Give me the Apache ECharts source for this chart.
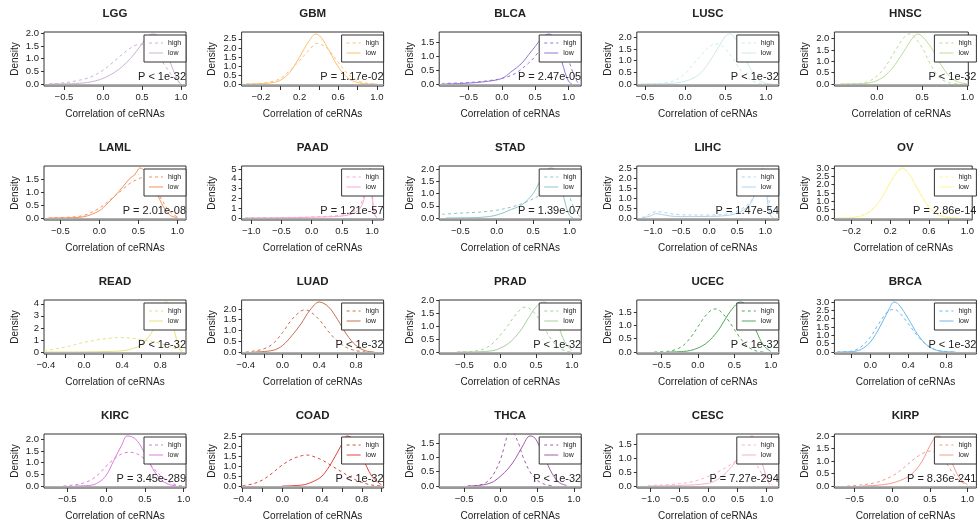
<!DOCTYPE html>
<html>
<head>
<meta charset="utf-8">
<script src="https://cdn.jsdelivr.net/npm/echarts@6/dist/echarts.min.js"></script>
<style>
  html, body { margin: 0; padding: 0; background: #fff; }
  #chart { width: 977px; height: 526px; }
</style>
</head>
<body>
<div id="chart"></div>
<script>
// Cancer types, in panel order (row by row)
const cancers = ['LGG','GBM','BLCA','LUSC','HNSC',
                 'LAML','PAAD','STAD','LIHC','OV',
                 'READ','LUAD','PRAD','UCEC','BRCA',
                 'KIRC','COAD','THCA','CESC','KIRP'];

// p-value annotation of each panel
const pTexts = ['P < 1e-32','P = 1.17e-02','P = 2.47e-05','P < 1e-32','P < 1e-32',
                'P = 2.01e-08','P = 1.21e-57','P = 1.39e-07','P = 1.47e-54','P = 2.86e-14',
                'P < 1e-32','P < 1e-32','P < 1e-32','P < 1e-32','P < 1e-32',
                'P = 3.45e-289','P < 1e-32','P < 1e-32','P = 7.27e-294','P = 8.36e-241'];

// legend entries
const groups = ['high', 'low'];

// x-axis limits of each panel
const xLimits = [[-0.756,1.064],[-0.40,1.07],[-0.94,1.19],[-0.60,1.16],[-0.47,1.01],
                 [-0.71,1.11],[-1.16,1.19],[-0.79,1.16],[-1.29,1.24],[-0.38,1.05],
                 [-0.42,1.07],[-0.445,1.10],[-0.85,1.13],[-0.84,1.11],[-0.38,1.12],
                 [-0.80,1.03],[-0.41,1.02],[-0.84,1.10],[-1.24,1.21],[-0.77,1.12]];

// tick sets
const tHalf   = [-0.5,0,0.5,1];
const tWide   = [-1,-0.5,0,0.5,1];
const tFifth  = [-0.2,0,0.2,0.4,0.6,0.8,1];
const lFifth  = [-0.2,0.2,0.6,1];
const tFifthN = [-0.4,-0.2,0,0.2,0.4,0.6,0.8,1];
const lFifthN = [-0.4,0,0.4,0.8];
const xTicks  = [tHalf,tFifth,tHalf,tHalf,tHalf, tHalf,tWide,tHalf,tWide,tFifth,
                 tFifthN,tFifthN,tHalf,tHalf,tFifthN, tHalf,tFifthN,tHalf,tWide,tHalf];
const xLabels = [tHalf,lFifth,tHalf,tHalf,tHalf, tHalf,tWide,tHalf,tWide,lFifth,
                 lFifthN,lFifthN,tHalf,tHalf,lFifthN, tHalf,lFifthN,tHalf,tWide,tHalf];

const y20 = [0,0.5,1,1.5,2];
const y15 = [0,0.5,1,1.5];
const y25 = [0,0.5,1,1.5,2,2.5];
const y30 = [0,0.5,1,1.5,2,2.5,3];
const y5i = [0,1,2,3,4,5];
const y4i = [0,1,2,3,4];
const yTicks = [y20,y25,y15,y20,y20, y15,y5i,y20,y25,y30,
                y4i,y20,y20,y15,y30, y20,y25,y15,y15,y20];

// line colours
const colors = ['#CAB2D6','#FDBF6F','#9575D8','#CBEBEB','#B9DE98',
                '#F7915E','#F7A6D6','#8CC6C9','#B2D4EC','#FFF59A',
                '#E9E27E','#C4704F','#A8D09E','#52AA5A','#6FB7E8',
                '#DE7BE0','#E2463D','#A35CA8','#F6B2C9','#F59A8E'];

// density curves [correlation, density], group "high" and group "low"
const LGG_high  = [[-0.69,0],[-0.6,0.02],[-0.5,0.05],[-0.4,0.09],[-0.3,0.15],[-0.2,0.23],[-0.1,0.36],[0,0.54],[0.1,0.78],[0.2,1.05],[0.3,1.3],[0.4,1.5],[0.48,1.57],[0.55,1.52],[0.6,1.43],[0.7,1.12],[0.8,0.7],[0.9,0.28],[1.0,0.02]];
const LGG_low   = [[-0.69,0],[-0.4,0.01],[-0.3,0.03],[-0.2,0.06],[-0.1,0.12],[0,0.22],[0.1,0.37],[0.2,0.57],[0.3,0.84],[0.4,1.18],[0.5,1.58],[0.58,1.9],[0.64,1.97],[0.7,1.9],[0.8,1.35],[0.9,0.55],[0.97,0.08],[1.0,0]];
const GBM_high  = [[-0.35,0],[-0.2,0.04],[-0.1,0.12],[0,0.3],[0.1,0.75],[0.2,1.3],[0.3,1.88],[0.38,2.25],[0.45,2.12],[0.5,1.9],[0.6,1.2],[0.7,0.55],[0.8,0.18],[0.9,0.04],[1.0,0]];
const GBM_low   = [[-0.35,0],[-0.2,0.02],[-0.1,0.06],[0,0.2],[0.1,0.65],[0.2,1.5],[0.3,2.4],[0.37,2.77],[0.42,2.6],[0.5,1.9],[0.6,0.95],[0.7,0.33],[0.8,0.08],[0.9,0.01],[1.0,0]];
const BLCA_high = [[-0.9,0.02],[-0.6,0.04],[-0.4,0.07],[-0.2,0.12],[0,0.2],[0.2,0.38],[0.4,0.75],[0.5,1.0],[0.6,1.3],[0.7,1.5],[0.8,1.58],[0.9,1.4],[1.0,0.85],[1.1,0.2],[1.15,0.02]];
const BLCA_low  = [[-0.85,0],[-0.6,0.02],[-0.4,0.05],[-0.2,0.1],[0,0.2],[0.13,0.42],[0.3,0.75],[0.4,1.05],[0.5,1.35],[0.6,1.65],[0.7,1.8],[0.75,1.75],[0.8,1.5],[0.9,0.8],[0.95,0.4],[1.0,0.1],[1.05,0]];
const LUSC_high = [[-0.55,0],[-0.3,0.03],[-0.2,0.08],[-0.1,0.2],[0,0.45],[0.1,0.85],[0.2,1.25],[0.3,1.6],[0.38,1.72],[0.45,1.65],[0.5,1.5],[0.6,1.05],[0.7,0.55],[0.8,0.2],[0.9,0.05],[1.0,0.01]];
const LUSC_low  = [[-0.55,0],[-0.2,0.02],[-0.1,0.05],[0,0.12],[0.1,0.25],[0.2,0.5],[0.3,0.95],[0.4,1.5],[0.5,2.05],[0.55,2.14],[0.6,2.05],[0.7,1.45],[0.8,0.7],[0.9,0.2],[1.0,0.03],[1.08,0]];
const HNSC_high = [[-0.4,0],[-0.2,0.02],[-0.1,0.1],[0,0.35],[0.1,0.8],[0.2,1.45],[0.3,2.05],[0.35,2.2],[0.4,2.13],[0.5,1.6],[0.6,0.8],[0.7,0.25],[0.8,0.05],[0.9,0.01]];
const HNSC_low  = [[-0.4,0],[-0.2,0.01],[-0.1,0.04],[0,0.15],[0.1,0.4],[0.2,0.85],[0.3,1.45],[0.4,2.05],[0.45,2.2],[0.5,2.1],[0.6,1.6],[0.7,0.9],[0.8,0.35],[0.9,0.08],[1.0,0.01]];
const LAML_high = [[-0.65,0],[-0.4,0.03],[-0.2,0.1],[0,0.38],[0.1,0.6],[0.2,0.85],[0.3,1.1],[0.4,1.35],[0.5,1.5],[0.55,1.55],[0.6,1.5],[0.7,1.2],[0.8,0.7],[0.9,0.25],[1.0,0.04]];
const LAML_low  = [[-0.65,0],[-0.4,0.01],[-0.2,0.05],[0,0.28],[0.1,0.55],[0.2,0.85],[0.3,1.2],[0.4,1.55],[0.45,1.65],[0.5,1.88],[0.52,1.92],[0.6,1.75],[0.7,1.2],[0.8,0.55],[0.9,0.12],[1.0,0.01]];
const PAAD_high = [[-1.1,0.02],[-0.5,0.05],[0,0.1],[0.5,0.3],[0.7,0.7],[0.8,1.3],[0.85,2.0],[0.9,3.4],[0.93,4.2],[0.97,3.6],[1.0,2.0],[1.05,0.3],[1.1,0]];
const PAAD_low  = [[-1.1,0],[-0.5,0.03],[0,0.08],[0.5,0.2],[0.7,0.5],[0.8,1.0],[0.85,1.6],[0.9,2.8],[0.95,4.6],[0.97,5.1],[1.0,3.0],[1.03,0.5],[1.08,0]];
const STAD_high = [[-0.75,0.15],[-0.5,0.2],[-0.2,0.25],[0,0.32],[0.2,0.45],[0.4,0.65],[0.6,0.95],[0.8,1.35],[0.88,1.45],[0.95,1.2],[1.05,0.5],[1.1,0.2],[1.15,0.05]];
const STAD_low  = [[-0.7,0],[-0.4,0.01],[-0.2,0.03],[0,0.12],[0.2,0.35],[0.35,0.55],[0.5,1.0],[0.6,1.55],[0.7,2.0],[0.75,2.05],[0.8,1.95],[0.9,1.1],[0.95,0.5],[1.0,0.1],[1.05,0]];
const LIHC_high = [[-1.2,0.02],[-1.05,0.2],[-0.95,0.32],[-0.85,0.3],[-0.7,0.22],[-0.5,0.16],[0,0.15],[0.3,0.2],[0.5,0.35],[0.7,0.7],[0.8,1.1],[0.9,1.65],[0.97,1.95],[1.05,1.2],[1.1,0.4],[1.2,0.05]];
const LIHC_low  = [[-1.2,0],[-1.05,0.1],[-0.95,0.22],[-0.85,0.18],[-0.7,0.1],[-0.5,0.07],[0,0.08],[0.3,0.12],[0.5,0.25],[0.7,0.6],[0.8,1.1],[0.9,2.0],[0.95,2.5],[1.0,1.8],[1.05,0.6],[1.1,0.1],[1.15,0]];
const OV_high   = [[-0.35,0],[-0.2,0.03],[-0.1,0.15],[0,0.47],[0.1,1.12],[0.2,2.1],[0.28,2.8],[0.33,2.95],[0.4,2.62],[0.5,1.62],[0.6,0.72],[0.7,0.22],[0.8,0.05],[0.9,0.01]];
const OV_low    = [[-0.35,0],[-0.2,0.02],[-0.1,0.12],[0,0.42],[0.1,1.1],[0.2,2.15],[0.28,2.85],[0.32,3.0],[0.4,2.6],[0.5,1.55],[0.6,0.65],[0.7,0.18],[0.8,0.03],[0.9,0]];
const READ_high = [[-0.42,0.1],[-0.3,0.25],[-0.2,0.4],[-0.1,0.6],[0,0.8],[0.1,0.95],[0.2,1.08],[0.3,1.17],[0.4,1.2],[0.5,1.15],[0.6,1.05],[0.7,0.9],[0.8,0.7],[0.9,0.45],[1.0,0.2],[1.07,0.08]];
const READ_low  = [[-0.4,0],[0,0.01],[0.3,0.05],[0.4,0.1],[0.5,0.25],[0.6,0.6],[0.7,1.5],[0.75,2.3],[0.8,3.4],[0.85,4.15],[0.88,4.1],[0.92,3.0],[0.95,1.7],[1.0,0.3],[1.03,0]];
const LUAD_high = [[-0.4,0],[-0.3,0.05],[-0.2,0.15],[-0.1,0.4],[0,0.9],[0.1,1.5],[0.2,1.9],[0.25,1.95],[0.3,1.88],[0.4,1.5],[0.5,0.95],[0.6,0.5],[0.7,0.2],[0.8,0.06],[0.9,0.01]];
const LUAD_low  = [[-0.3,0],[-0.1,0.08],[0,0.3],[0.1,0.75],[0.2,1.3],[0.3,1.95],[0.4,2.32],[0.5,2.1],[0.6,1.5],[0.7,0.8],[0.8,0.3],[0.9,0.06],[1.0,0]];
const PRAD_high = [[-0.6,0],[-0.4,0.02],[-0.3,0.06],[-0.2,0.15],[-0.1,0.35],[0,0.65],[0.1,1.0],[0.2,1.4],[0.3,1.7],[0.35,1.75],[0.4,1.72],[0.5,1.45],[0.6,1.0],[0.7,0.55],[0.8,0.2],[0.9,0.05],[1.0,0]];
const PRAD_low  = [[-0.6,0],[-0.3,0.01],[-0.1,0.05],[0,0.15],[0.1,0.3],[0.2,0.55],[0.3,0.9],[0.4,1.35],[0.5,1.75],[0.6,1.95],[0.65,1.92],[0.7,1.75],[0.8,1.1],[0.9,0.4],[1.0,0.05]];
const UCEC_high = [[-0.6,0],[-0.4,0.03],[-0.3,0.1],[-0.2,0.25],[-0.1,0.55],[0,0.95],[0.1,1.35],[0.2,1.6],[0.25,1.62],[0.3,1.55],[0.4,1.25],[0.5,0.85],[0.6,0.45],[0.7,0.17],[0.8,0.04],[0.9,0]];
const UCEC_low  = [[-0.4,0],[-0.2,0.02],[-0.1,0.06],[0,0.15],[0.1,0.3],[0.2,0.55],[0.3,0.9],[0.4,1.35],[0.5,1.72],[0.58,1.88],[0.65,1.8],[0.7,1.55],[0.8,0.8],[0.9,0.25],[1.0,0.02]];
const BRCA_high = [[-0.35,0],[-0.2,0.05],[-0.1,0.3],[0,0.9],[0.1,1.8],[0.2,2.5],[0.25,2.55],[0.3,2.4],[0.4,1.7],[0.5,0.95],[0.6,0.4],[0.7,0.12],[0.8,0.03],[0.9,0]];
const BRCA_low  = [[-0.35,0],[-0.2,0.02],[-0.1,0.15],[0,0.6],[0.1,1.5],[0.2,2.6],[0.25,3.0],[0.3,2.85],[0.4,2.0],[0.5,1.05],[0.6,0.4],[0.7,0.1],[0.8,0.02],[0.9,0]];
const KIRC_high = [[-0.55,0],[-0.4,0.05],[-0.3,0.12],[-0.2,0.25],[-0.1,0.5],[0,0.85],[0.1,1.15],[0.2,1.38],[0.3,1.45],[0.4,1.38],[0.5,1.15],[0.6,0.8],[0.7,0.45],[0.8,0.2],[0.9,0.05],[1.0,0]];
const KIRC_low  = [[-0.4,0],[-0.2,0.03],[-0.1,0.15],[0,0.45],[0.1,1.1],[0.2,1.75],[0.27,2.15],[0.33,2.12],[0.4,1.95],[0.5,1.4],[0.6,0.75],[0.7,0.3],[0.8,0.08],[0.9,0.01]];
const COAD_high = [[-0.4,0.02],[-0.3,0.1],[-0.2,0.3],[-0.1,0.65],[0,1.05],[0.1,1.35],[0.2,1.52],[0.25,1.55],[0.3,1.5],[0.4,1.3],[0.5,1.0],[0.6,0.7],[0.7,0.4],[0.8,0.18],[0.9,0.05],[1.0,0]];
const COAD_low  = [[0,0],[0.2,0.05],[0.3,0.2],[0.4,0.5],[0.5,1.2],[0.6,2.1],[0.65,2.5],[0.7,2.4],[0.8,1.5],[0.9,0.5],[1.0,0.05]];
const THCA_high = [[-0.45,0],[-0.3,0.03],[-0.2,0.12],[-0.1,0.4],[0,0.95],[0.05,1.4],[0.1,1.85],[0.13,2.0],[0.17,1.9],[0.25,1.45],[0.3,1.05],[0.4,0.5],[0.5,0.2],[0.6,0.06],[0.7,0.01]];
const THCA_low  = [[-0.45,0],[-0.3,0.02],[-0.2,0.06],[-0.1,0.15],[0,0.35],[0.1,0.6],[0.2,0.95],[0.3,1.4],[0.4,1.75],[0.45,1.72],[0.5,1.55],[0.6,1.0],[0.7,0.45],[0.8,0.12],[0.9,0.02]];
const CESC_high = [[-1.05,0.02],[-0.5,0.08],[-0.2,0.2],[0,0.35],[0.2,0.55],[0.4,0.8],[0.6,1.05],[0.7,1.05],[0.8,0.85],[0.9,0.5],[1.0,0.2],[1.1,0.03]];
const CESC_low  = [[-1.0,0],[-0.5,0.02],[0,0.1],[0.2,0.3],[0.4,0.7],[0.5,1.0],[0.6,1.4],[0.7,1.75],[0.75,1.8],[0.8,1.7],[0.9,1.0],[1.0,0.3],[1.05,0.05]];
const KIRP_high = [[-0.6,0],[-0.4,0.05],[-0.2,0.15],[0,0.4],[0.1,0.6],[0.2,0.85],[0.3,1.1],[0.4,1.3],[0.5,1.4],[0.6,1.3],[0.7,1.0],[0.8,0.55],[0.9,0.2],[1.0,0.04]];
const KIRP_low  = [[-0.4,0],[-0.2,0.03],[0,0.12],[0.2,0.35],[0.3,0.6],[0.4,1.0],[0.5,1.6],[0.6,2.0],[0.65,1.95],[0.7,1.65],[0.8,0.9],[0.9,0.3],[1.0,0.05]];

const highCurves = [LGG_high,GBM_high,BLCA_high,LUSC_high,HNSC_high,LAML_high,PAAD_high,STAD_high,LIHC_high,OV_high,
                    READ_high,LUAD_high,PRAD_high,UCEC_high,BRCA_high,KIRC_high,COAD_high,THCA_high,CESC_high,KIRP_high];
const lowCurves  = [LGG_low,GBM_low,BLCA_low,LUSC_low,HNSC_low,LAML_low,PAAD_low,STAD_low,LIHC_low,OV_low,
                    READ_low,LUAD_low,PRAD_low,UCEC_low,BRCA_low,KIRC_low,COAD_low,THCA_low,CESC_low,KIRP_low];

// ---- layout of the 5 x 4 panel grid ----
const BOX_W = 142, BOX_H = 54;
const boxLeft = c => 44 + c * 197.6;
const boxTop  = r => 32 + r * 134;
const FONT = '"Liberation Sans", Arial, Helvetica, sans-serif';
const INK = '#222';
const DASH = [3, 3];

const fmtTick = intLabels => v => {
  const s = intLabels ? String(Math.round(Math.abs(v))) : Math.abs(v).toFixed(1);
  return (v < -1e-9 ? '\u2212' : '') + s;
};

const grids = [], xAxes = [], yAxes = [], series = [], graphics = [];

cancers.forEach((name, i) => {
  const r = Math.floor(i / 5), c = i % 5;
  const L = boxLeft(c), T = boxTop(r);
  const hi = highCurves[i], lo = lowCurves[i];
  // y limits follow the first-drawn ("low") curve, padded by 4 % as in R
  const M = Math.max(...lo.map(p => p[1]));
  const yt = yTicks[i];
  const intY = yt.every(v => Number.isInteger(v)) && yt[yt.length - 1] >= 3;

  grids.push({ left: L, top: T, width: BOX_W, height: BOX_H, show: true,
               borderColor: '#333', borderWidth: 1, backgroundColor: 'transparent' });

  xAxes.push({
    gridIndex: i, type: 'value', min: xLimits[i][0], max: xLimits[i][1],
    axisLine: { show: false, onZero: false },
    axisTick: { show: true, length: 4, customValues: xTicks[i], lineStyle: { color: '#333' } },
    axisLabel: { customValues: xLabels[i], formatter: fmtTick(false), fontSize: 9.5,
                 fontFamily: FONT, color: INK, margin: 6,
                 showMinLabel: true, showMaxLabel: true, hideOverlap: false },
    splitLine: { show: false },
    name: 'Correlation of ceRNAs', nameLocation: 'middle', nameGap: 23,
    nameTextStyle: { fontSize: 10, fontFamily: FONT, color: INK }
  });

  // tightly packed density labels are split over two coincident y axes
  // (alternate labels on each) so that every one of them gets drawn
  const ySplit = [yt.filter((_, k) => k % 2 === 0), yt.filter((_, k) => k % 2 === 1)];
  ySplit.forEach((labels, k) => {
    yAxes.push({
      gridIndex: i, type: 'value', min: -0.04 * M, max: 1.04 * M, position: 'left', offset: 0,
      axisLine: { show: false, onZero: false },
      axisTick: { show: k === 0, length: 3, customValues: yt, lineStyle: { color: '#333' } },
      axisLabel: { customValues: labels, formatter: fmtTick(intY), fontSize: 9.5,
                   fontFamily: FONT, color: INK, margin: 5,
                   showMinLabel: true, showMaxLabel: true, hideOverlap: false },
      splitLine: { show: false },
      name: k === 0 ? 'Density' : '', nameLocation: 'middle', nameGap: 24, nameRotate: 90,
      nameTextStyle: { fontSize: 10, fontFamily: FONT, color: INK }
    });
  });

  const common = { type: 'line', xAxisIndex: i, yAxisIndex: 2 * i, symbol: 'none',
                   smooth: 0.35, silent: true, clip: true };
  series.push(Object.assign({}, common, {
    name: groups[0] + '|' + name, data: hi,
    lineStyle: { color: colors[i], width: 1, type: DASH }, itemStyle: { color: colors[i] }
  }));
  series.push(Object.assign({}, common, {
    name: groups[1] + '|' + name, data: lo,
    lineStyle: { color: colors[i], width: 1, type: 'solid' }, itemStyle: { color: colors[i] },
    markLine: { silent: true, symbol: ['none', 'none'], label: { show: false },
                lineStyle: { color: '#b0b0b0', width: 1, type: 'solid' },
                data: [{ yAxis: 0 }] }
  }));

  // legend box in the top-right corner of the panel
  const lx = L + BOX_W - 42, ly = T + 3;
  graphics.push({ type: 'rect', silent: true, z: 90,
    shape: { x: lx, y: ly, width: 42, height: 27 },
    style: { fill: '#fff', stroke: '#333', lineWidth: 1 } });
  groups.forEach((g, k) => {
    const yy = ly + 8 + k * 10;
    graphics.push({ type: 'line', silent: true, z: 91,
      shape: { x1: lx + 5, y1: yy, x2: lx + 19, y2: yy },
      style: { stroke: colors[i], lineWidth: 1, lineDash: k === 0 ? DASH : null } });
    graphics.push({ type: 'text', silent: true, z: 91, x: lx + 24, y: yy,
      style: { text: g, align: 'left', verticalAlign: 'middle', fill: INK, font: '7px ' + FONT } });
  });

  graphics.push({ type: 'text', x: L + BOX_W / 2, y: T - 18, silent: true,
    style: { text: name, align: 'center', verticalAlign: 'middle', fill: INK,
             font: 'bold 11.5px ' + FONT } });
  graphics.push({ type: 'text', x: L + BOX_W, y: T + BOX_H - 9, silent: true, z: 100,
    style: { text: pTexts[i], align: 'right', verticalAlign: 'middle', fill: INK,
             font: '11px ' + FONT } });
});

const chart = echarts.init(document.getElementById('chart'), null, { renderer: 'canvas' });
chart.setOption({
  backgroundColor: '#fff',
  animation: false,
  grid: grids, xAxis: xAxes, yAxis: yAxes, series: series,
  graphic: { elements: graphics }
});
</script>
</body>
</html>
